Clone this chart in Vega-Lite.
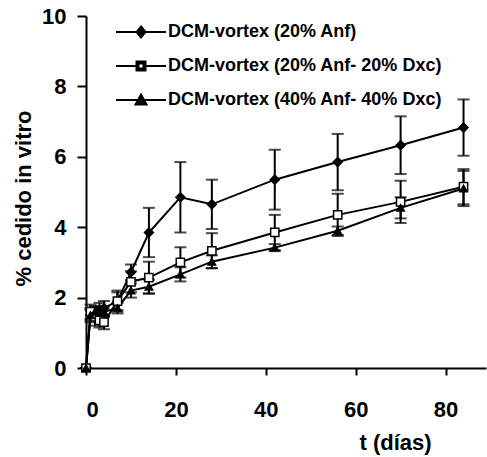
{
  "$schema": "https://vega.github.io/schema/vega-lite/v6.json",
  "width": 400,
  "height": 352,
  "autosize": "none",
  "padding": {"left": 86, "top": 16, "right": 1, "bottom": 89},
  "background": "white",
  "config": {
    "view": {"stroke": null},
    "font": "Liberation Sans",
    "axis": {
      "grid": false,
      "domainColor": "black",
      "domainWidth": 2,
      "tickColor": "black",
      "tickWidth": 2,
      "labelFont": "Liberation Sans",
      "labelFontWeight": "bold",
      "labelFontSize": 22,
      "labelColor": "black",
      "titleFont": "Liberation Sans",
      "titleFontWeight": "bold",
      "titleFontSize": 22,
      "titleColor": "black"
    },
    "legend": {
      "labelFont": "Liberation Sans",
      "labelFontWeight": "bold",
      "labelFontSize": 18,
      "labelColor": "black",
      "labelLimit": 0
    }
  },
  "datasets": {
    "release": [
      {"series": "DCM-vortex (20% Anf)", "t": 0, "v": 0, "e": 0},
      {"series": "DCM-vortex (20% Anf)", "t": 1, "v": 1.5, "e": 0.15},
      {"series": "DCM-vortex (20% Anf)", "t": 2, "v": 1.6, "e": 0.15},
      {"series": "DCM-vortex (20% Anf)", "t": 3, "v": 1.65, "e": 0.2},
      {"series": "DCM-vortex (20% Anf)", "t": 4, "v": 1.7, "e": 0.2},
      {"series": "DCM-vortex (20% Anf)", "t": 7, "v": 1.9, "e": 0.3},
      {"series": "DCM-vortex (20% Anf)", "t": 10, "v": 2.72, "e": 0.22},
      {"series": "DCM-vortex (20% Anf)", "t": 14, "v": 3.85, "e": 0.7},
      {"series": "DCM-vortex (20% Anf)", "t": 21, "v": 4.85, "e": 1.0},
      {"series": "DCM-vortex (20% Anf)", "t": 28, "v": 4.65, "e": 0.7},
      {"series": "DCM-vortex (20% Anf)", "t": 42, "v": 5.35, "e": 0.85},
      {"series": "DCM-vortex (20% Anf)", "t": 56, "v": 5.85, "e": 0.8},
      {"series": "DCM-vortex (20% Anf)", "t": 70, "v": 6.33, "e": 0.82},
      {"series": "DCM-vortex (20% Anf)", "t": 84, "v": 6.83, "e": 0.8},
      {"series": "DCM-vortex (20% Anf- 20% Dxc)", "t": 0, "v": 0, "e": 0},
      {"series": "DCM-vortex (20% Anf- 20% Dxc)", "t": 1, "v": 1.6, "e": 0.2},
      {"series": "DCM-vortex (20% Anf- 20% Dxc)", "t": 2, "v": 1.45, "e": 0.25},
      {"series": "DCM-vortex (20% Anf- 20% Dxc)", "t": 3, "v": 1.35, "e": 0.2},
      {"series": "DCM-vortex (20% Anf- 20% Dxc)", "t": 4, "v": 1.3, "e": 0.2},
      {"series": "DCM-vortex (20% Anf- 20% Dxc)", "t": 7, "v": 1.9, "e": 0.25},
      {"series": "DCM-vortex (20% Anf- 20% Dxc)", "t": 10, "v": 2.45, "e": 0.3},
      {"series": "DCM-vortex (20% Anf- 20% Dxc)", "t": 14, "v": 2.57, "e": 0.45},
      {"series": "DCM-vortex (20% Anf- 20% Dxc)", "t": 21, "v": 3.0, "e": 0.43},
      {"series": "DCM-vortex (20% Anf- 20% Dxc)", "t": 28, "v": 3.33, "e": 0.5},
      {"series": "DCM-vortex (20% Anf- 20% Dxc)", "t": 42, "v": 3.85, "e": 0.5},
      {"series": "DCM-vortex (20% Anf- 20% Dxc)", "t": 56, "v": 4.35, "e": 0.6},
      {"series": "DCM-vortex (20% Anf- 20% Dxc)", "t": 70, "v": 4.72, "e": 0.6},
      {"series": "DCM-vortex (20% Anf- 20% Dxc)", "t": 84, "v": 5.15, "e": 0.5},
      {"series": "DCM-vortex (40% Anf- 40% Dxc)", "t": 0, "v": 0, "e": 0},
      {"series": "DCM-vortex (40% Anf- 40% Dxc)", "t": 1, "v": 1.5, "e": 0.2},
      {"series": "DCM-vortex (40% Anf- 40% Dxc)", "t": 2, "v": 1.6, "e": 0.15},
      {"series": "DCM-vortex (40% Anf- 40% Dxc)", "t": 3, "v": 1.6, "e": 0.15},
      {"series": "DCM-vortex (40% Anf- 40% Dxc)", "t": 4, "v": 1.6, "e": 0.15},
      {"series": "DCM-vortex (40% Anf- 40% Dxc)", "t": 7, "v": 1.7, "e": 0.15},
      {"series": "DCM-vortex (40% Anf- 40% Dxc)", "t": 10, "v": 2.2, "e": 0.2},
      {"series": "DCM-vortex (40% Anf- 40% Dxc)", "t": 14, "v": 2.31, "e": 0.2},
      {"series": "DCM-vortex (40% Anf- 40% Dxc)", "t": 21, "v": 2.66, "e": 0.2},
      {"series": "DCM-vortex (40% Anf- 40% Dxc)", "t": 28, "v": 3.02, "e": 0.18},
      {"series": "DCM-vortex (40% Anf- 40% Dxc)", "t": 42, "v": 3.42, "e": 0.1},
      {"series": "DCM-vortex (40% Anf- 40% Dxc)", "t": 56, "v": 3.9, "e": 0.12},
      {"series": "DCM-vortex (40% Anf- 40% Dxc)", "t": 70, "v": 4.55, "e": 0.3},
      {"series": "DCM-vortex (40% Anf- 40% Dxc)", "t": 84, "v": 5.1, "e": 0.5}
    ],
    "legendItems": [
      {"leg": "DCM-vortex (20% Anf)"},
      {"leg": "DCM-vortex (20% Anf- 20% Dxc)"},
      {"leg": "DCM-vortex (40% Anf- 40% Dxc)"}
    ]
  },
  "data": {"name": "release"},
  "encoding": {
    "x": {
      "field": "t",
      "type": "quantitative",
      "scale": {"domain": [0, 89], "nice": false},
      "axis": {
        "values": [0, 20, 40, 60, 80],
        "tickSize": 7,
        "labelPadding": 24,
        "labelBaseline": "top",
        "title": "t (días)",
        "titleX": 309,
        "titleY": 81,
        "titleBaseline": "alphabetic",
        "titleAlign": "center",
        "titleAnchor": null
      }
    },
    "y": {
      "field": "v",
      "type": "quantitative",
      "scale": {"domain": [0, 10], "nice": false},
      "axis": {
        "values": [0, 2, 4, 6, 8, 10],
        "tickSize": 9,
        "labelPadding": 11,
        "title": "% cedido in vitro",
        "titleX": -56,
        "titleY": 182,
        "titleAngle": 270,
        "titleBaseline": "alphabetic",
        "titleAlign": "center",
        "titleAnchor": null
      }
    }
  },
  "layer": [
    {
      "mark": {
        "type": "errorbar",
        "color": "black",
        "ticks": {"size": 12, "thickness": 2, "color": "black"},
        "rule": {"strokeWidth": 2, "color": "black"}
      },
      "encoding": {"yError": {"field": "e"}}
    },
    {
      "mark": {"type": "line", "color": "black", "strokeWidth": 2},
      "encoding": {"detail": {"field": "series"}}
    },
    {
      "mark": {"type": "point", "filled": true, "stroke": "black", "strokeWidth": 1.5, "opacity": 1},
      "encoding": {
        "shape": {
          "field": "series",
          "type": "nominal",
          "scale": {
            "domain": ["DCM-vortex (20% Anf)", "DCM-vortex (20% Anf- 20% Dxc)", "DCM-vortex (40% Anf- 40% Dxc)"],
            "range": ["diamond", "square", "triangle-up"]
          },
          "legend": null
        },
        "fill": {
          "field": "series",
          "type": "nominal",
          "scale": {
            "domain": ["DCM-vortex (20% Anf)", "DCM-vortex (20% Anf- 20% Dxc)", "DCM-vortex (40% Anf- 40% Dxc)"],
            "range": ["black", "white", "black"]
          },
          "legend": null
        },
        "size": {
          "field": "series",
          "type": "nominal",
          "scale": {
            "domain": ["DCM-vortex (20% Anf)", "DCM-vortex (20% Anf- 20% Dxc)", "DCM-vortex (40% Anf- 40% Dxc)"],
            "range": [81, 55, 75]
          },
          "legend": null
        }
      }
    },
    {
      "data": {"name": "legendItems"},
      "transform": [{"filter": "datum.leg == 'none'"}],
      "mark": {"type": "point", "filled": false, "stroke": "black", "strokeWidth": 2, "opacity": 1},
      "encoding": {
        "x": {"field": "t", "type": "quantitative"},
        "y": {"field": "v", "type": "quantitative"},
        "shape": {
          "field": "leg",
          "type": "nominal",
          "scale": {
            "domain": ["DCM-vortex (20% Anf)", "DCM-vortex (20% Anf- 20% Dxc)", "DCM-vortex (40% Anf- 40% Dxc)"],
            "range": [
              "M-5,0L5,0M0,-1.1L0.9,0L0,1.1L-0.9,0ZM0,-0.6L0.5,0L0,0.6L-0.5,0ZM0,-0.3L0,0.3",
              "M-5,0L-0.9,0M0.9,0L5,0M-0.9,-0.9L0.9,-0.9L0.9,0.9L-0.9,0.9ZM-0.5,-0.5L0.5,-0.5L0.5,0.5L-0.5,0.5Z",
              "M-5,0L5,0M0,-1.1L1.1,0.9L-1.1,0.9ZM0,-0.45L0.5,0.5L-0.5,0.5ZM0,0L0,0.5"
            ]
          },
          "legend": {
            "orient": "none",
            "legendX": 46,
            "legendY": 7,
            "title": null,
            "padding": 0,
            "symbolSize": 100,
            "symbolStrokeColor": "black",
            "symbolStrokeWidth": 2,
            "symbolOpacity": 1,
            "labelOffset": 18,
            "rowPadding": 15
          }
        }
      }
    }
  ],
  "resolve": {"scale": {"shape": "independent", "fill": "independent", "size": "independent"}}
}
